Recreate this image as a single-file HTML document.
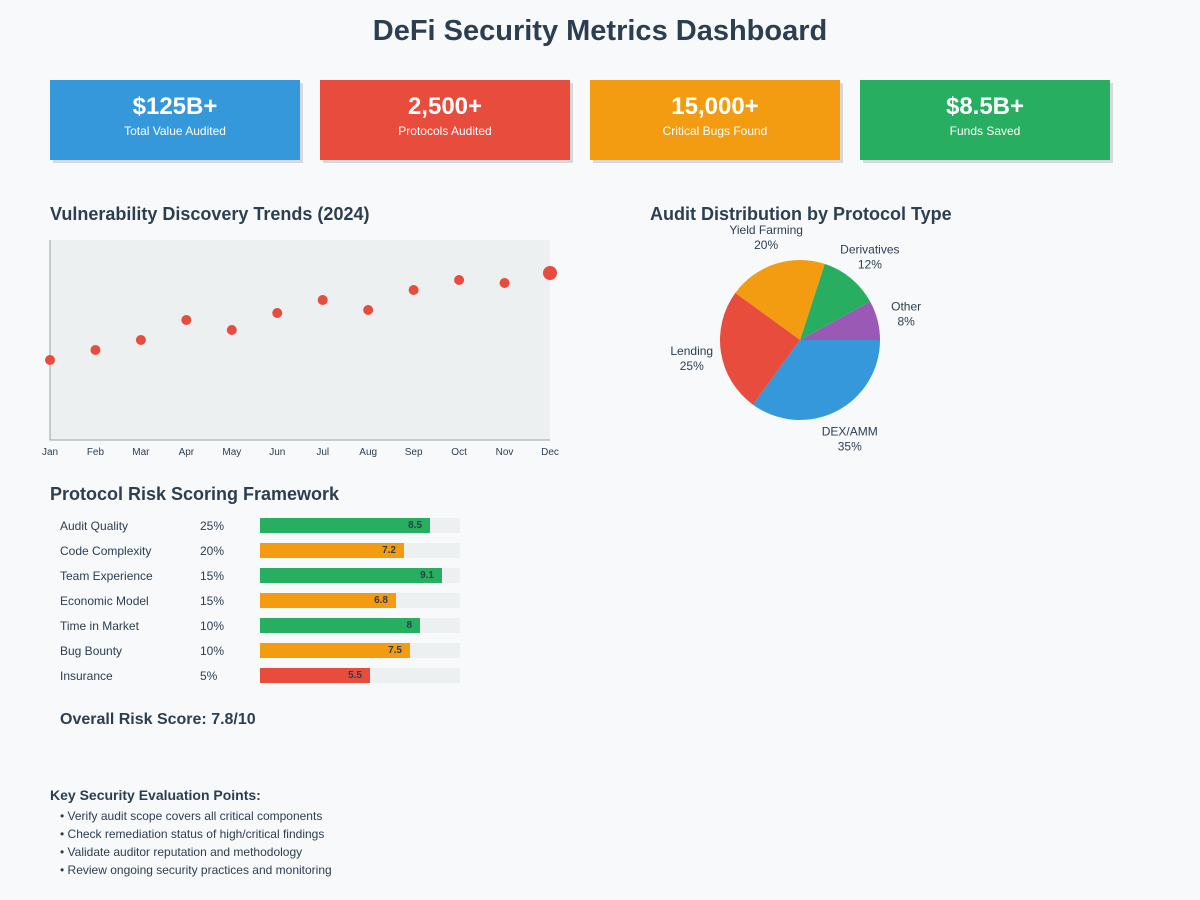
<!DOCTYPE html>
<html><head><meta charset="utf-8"><style>
body{margin:0;width:1200px;height:900px;background:#f7f9fb;font-family:"Liberation Sans",sans-serif;color:#2c3e50;position:relative;overflow:hidden}
.abs{position:absolute}
h1{position:absolute;top:15px;left:0;width:1200px;text-align:center;font-size:29px;margin:0;font-weight:bold}
.card{position:absolute;top:80px;width:250px;height:80px;color:#fff;text-align:center;box-shadow:3px 3px 0 #d5d8dc}
.card .v{font-size:24px;font-weight:bold;margin-top:13px}
.card .l{font-size:12px;margin-top:3px}
.sec{position:absolute;font-size:18px;font-weight:bold}
.row{position:absolute;left:60px;font-size:12px;height:15px;line-height:15px}
</style></head><body>
<h1>DeFi Security Metrics Dashboard</h1>
<div class="card" style="left:50px;background:#3498db"><div class="v">$125B+</div><div class="l">Total Value Audited</div></div>
<div class="card" style="left:320px;background:#e74c3c"><div class="v">2,500+</div><div class="l">Protocols Audited</div></div>
<div class="card" style="left:590px;background:#f39c12"><div class="v">15,000+</div><div class="l">Critical Bugs Found</div></div>
<div class="card" style="left:860px;background:#27ae60"><div class="v">$8.5B+</div><div class="l">Funds Saved</div></div>

<div class="sec" style="left:50px;top:204px">Vulnerability Discovery Trends (2024)</div>
<div class="sec" style="left:650px;top:204px">Audit Distribution by Protocol Type</div>
<svg class="abs" style="left:0;top:0" width="1200" height="470" id="charts"></svg>

<div class="sec" style="left:50px;top:484px">Protocol Risk Scoring Framework</div>
<div id="risk"></div>
<div class="abs" style="left:60px;top:711px;font-size:16px;font-weight:bold">Overall Risk Score: 7.8/10</div>

<div class="abs" style="left:50px;top:787px;font-size:14px;font-weight:bold">Key Security Evaluation Points:</div>
<div class="abs" style="left:60px;top:807px;font-size:12px;line-height:18px">
<div>• Verify audit scope covers all critical components</div>
<div>• Check remediation status of high/critical findings</div>
<div>• Validate auditor reputation and methodology</div>
<div>• Review ongoing security practices and monitoring</div>
</div>
<script>
const months=["Jan","Feb","Mar","Apr","May","Jun","Jul","Aug","Sep","Oct","Nov","Dec"];
const vulnValues=[40,45,50,60,55,63.5,70,65,75,80,78.5,83.5];
const pieLabels=["Other","Derivatives","Yield Farming","Lending","DEX/AMM"];
const pieValues=[8,12,20,25,35];
const pieColors=["#9b59b6","#27ae60","#f39c12","#e74c3c","#3498db"];
const riskFactors=["Audit Quality","Code Complexity","Team Experience","Economic Model","Time in Market","Bug Bounty","Insurance"];
const riskWeights=["25%","20%","15%","15%","10%","10%","5%"];
const riskScores=[8.5,7.2,9.1,6.8,8,7.5,5.5];
const NS="http://www.w3.org/2000/svg";
const svg=document.getElementById('charts');
function mk(t,a,p){const e=document.createElementNS(NS,t);for(const k in a)e.setAttribute(k,a[k]);(p||svg).appendChild(e);return e;}
const x=i=>50+i*500/(months.length-1), y=v=>440-v*2;
let r=mk('rect',{x:50,y:240,width:500,height:200,fill:'#ecf0f1'});


let ax=mk('path',{d:'M50 240V440H550',stroke:'#95a5a6',fill:'none'});


months.forEach((m,i)=>{
 const t=mk('text',{x:x(i),y:455,'font-size':10,'text-anchor':'middle',fill:'#2c3e50'});t.textContent=m;
 
 
 const c=mk('circle',{cx:x(i),cy:y(vulnValues[i]),r:i==months.length-1?7:5,fill:'#e74c3c'});
 
 
});
const cx=800,cy=340,R=80;let a0=0;const tot=pieValues.reduce((s,v)=>s+v,0);
pieValues.forEach((v,i)=>{
 const a1=a0+v/tot*2*Math.PI;
 const p=(a)=>[cx+R*Math.cos(a),cy-R*Math.sin(a)];
 const [x0,y0]=p(a0),[x1,y1]=p(a1);
 const s=mk('path',{d:`M${cx} ${cy}L${x0} ${y0}A${R} ${R} 0 ${a1-a0>Math.PI?1:0} 0 ${x1} ${y1}Z`,fill:pieColors[i]});
 
 
 const am=(a0+a1)/2,lr=R*1.37;
 const lx=cx+lr*Math.cos(am),ly=cy-lr*Math.sin(am);
 const t=mk('text',{x:lx,y:ly-2,'font-size':12,'text-anchor':'middle',fill:'#2c3e50'});
 
 
 mk('tspan',{x:lx},t).textContent=pieLabels[i];
 mk('tspan',{x:lx,dy:15},t).textContent=v+'%';
 a0=a1;
});
const risk=document.getElementById('risk');
riskFactors.forEach((f,i)=>{
 const top=518+i*25,s=riskScores[i];
 const col=s>=8?'#27ae60':s>=6?'#f39c12':'#e74c3c';
 const d=document.createElement('div');d.className='row';d.style.top=top+'px';d.style.width='420px';
 
 
 d.innerHTML=`<span style="position:absolute;left:0;top:1px">${f}</span><span style="position:absolute;left:140px;top:1px">${riskWeights[i]}</span><div style="position:absolute;left:200px;width:200px;height:15px;background:#ecf0f1"><div style="width:${s*20}px;height:15px;background:${col};text-align:right;font-size:10px;font-weight:bold;color:#2c3e50;box-sizing:border-box;padding-right:8px;line-height:16px">${s}</div></div>`;
 risk.appendChild(d);
});
</script>
</body></html>
